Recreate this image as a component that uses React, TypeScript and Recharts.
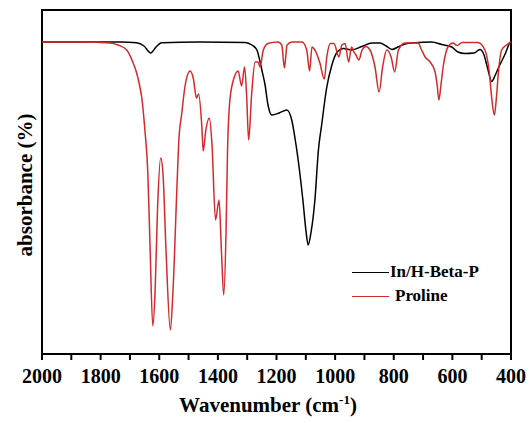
import React from 'react';
import { LineChart, Line, XAxis, YAxis, ReferenceArea } from 'recharts';

const blackWn = [2000,1870,1734,1677,1652,1629,1611,1592,1461,1307,1284,1267,1250,1239,1229,1216,1191,1165,1148,1137,1127,1110,1099,1092,1082,1069,1057,1046,1029,1012,995,972,943,909,874,847,826,806,786,762,728,671,636,602,581,557,526,506,492,480,466,455,443,420,403,400];
const blackAbs = [312,312,312,311.3,308,301,307,311.3,312,311.5,309,304,284,269,249,239,241,244,234,216,196,154,122,109,122,154,204,229,266,288,301,305.5,304,307.5,311,311,308,304.5,307,310,311.3,312,309.5,307,302,300.5,301,304.5,299,286,272.5,278,286,300,311.5,312];

const redWn = [2000,1870,1768,1741,1711,1689,1677,1666,1660,1649,1639,1632,1622,1614,1606,1595,1587,1577,1562,1553,1540,1533,1523,1512,1495,1484,1473,1466,1455,1450,1441,1429,1420,1408,1396,1388,1380,1372,1367,1359,1345,1331,1319,1309,1302,1295,1285,1273,1263,1256,1245,1229,1195,1182,1173,1164,1147,1113,1097,1087,1079,1069,1052,1037,1028,1016,1004,987,977,966,954,944,936,929,919,908,895,881,864,850,838,824,809,797,784,762,717,705,693,676,659,652,646,639,631,614,598,584,567,513,489,475,465,457,449,444,432,415,403,400];
const redAbs = [312,312,311,309,304,291,281,267,257,224,181,114,28,64,144,196,179,104,24,64,164,214,241,268,283,276,256,260,229,203,224,236,209,134,154,104,59,124,204,254,276,283,268,287,259,214,259,292,292,287,304,310.5,312,309,286,309,312,312,304,283,307,304,291,275,298,310.5,310.5,297,309,310.5,292,307,302,299,294,304,307.5,304,287,262,287,304,297,282,304,311,311,304,297,292,282,269,254,269,288,307.5,311,308.5,311.5,311.5,304,284,254,239,259,278,304,309,311.5,312];

const xTicks = [400,500,600,700,800,900,1000,1100,1200,1300,1400,1500,1600,1700,1800,1900,2000];

const seriesNames = ['In/H-Beta-P', 'Proline'];
const seriesColors = ['#000000', '#d42a2a'];

const blackData = blackWn.map((wn, i) => ({ wn, v: blackAbs[i] }));
const redData = redWn.map((wn, i) => ({ wn, v: redAbs[i] }));

const FONT = '"Liberation Serif", "Times New Roman", serif';

export default function App() {
  return (
    <div style={{ position: 'relative', width: 530, height: 423, background: '#fff' }}>
      <style>{'body{margin:0;background:#fff;}'}</style>
      <LineChart width={530} height={423} margin={{ top: 10, right: 19, left: 42, bottom: 29 }}>
        <XAxis
          dataKey="wn"
          type="number"
          domain={[400, 2000]}
          reversed
          ticks={xTicks}
          interval={0}
          allowDataOverflow
          height={40}
          tickSize={6}
          tickMargin={9}
          tickFormatter={(v: number) => (v % 200 === 0 ? String(v) : '')}
          axisLine={{ stroke: '#000', strokeWidth: 2 }}
          tickLine={{ stroke: '#000', strokeWidth: 2 }}
          tick={{ fill: '#000', fontSize: 20, fontWeight: 'bold', fontFamily: FONT }}
        />
        <YAxis type="number" domain={[0, 344]} hide allowDataOverflow />
        <ReferenceArea x1={2000} x2={400} y1={0} y2={344} fill="none" stroke="#000" strokeWidth={2} />
        <Line data={blackData} dataKey="v" name={seriesNames[0]} type="monotone" stroke={seriesColors[0]} strokeWidth={1.5} dot={false} isAnimationActive={false} />
        <Line data={redData} dataKey="v" name={seriesNames[1]} type="monotone" stroke={seriesColors[1]} strokeWidth={1.5} dot={false} isAnimationActive={false} />
      </LineChart>
      <div style={{ position: 'absolute', left: 352, top: 260, fontFamily: FONT, fontWeight: 'bold', fontSize: 17, color: '#000', lineHeight: '24px' }}>
        {seriesNames.map((n, i) => (
          <div key={n} style={{ display: 'flex', alignItems: 'center', height: 24 }}>
            <span style={{ display: 'inline-block', width: 37, borderTop: `1.5px solid ${seriesColors[i]}` }} />
            <span style={{ marginLeft: i === 0 ? 1 : 6 }}>{n}</span>
          </div>
        ))}
      </div>
      <div style={{ position: 'absolute', left: 25, top: 185, transform: 'translate(-50%, -50%) rotate(-90deg)', whiteSpace: 'nowrap', fontFamily: FONT, fontWeight: 'bold', fontSize: 21, color: '#000' }}>
        absorbance (%)
      </div>
      <div style={{ position: 'absolute', left: 268, top: 405, transform: 'translate(-50%, -50%)', whiteSpace: 'nowrap', fontFamily: FONT, fontWeight: 'bold', fontSize: 21, color: '#000' }}>
        Wavenumber (cm<sup style={{ fontSize: 13 }}>-1</sup>)
      </div>
    </div>
  );
}
